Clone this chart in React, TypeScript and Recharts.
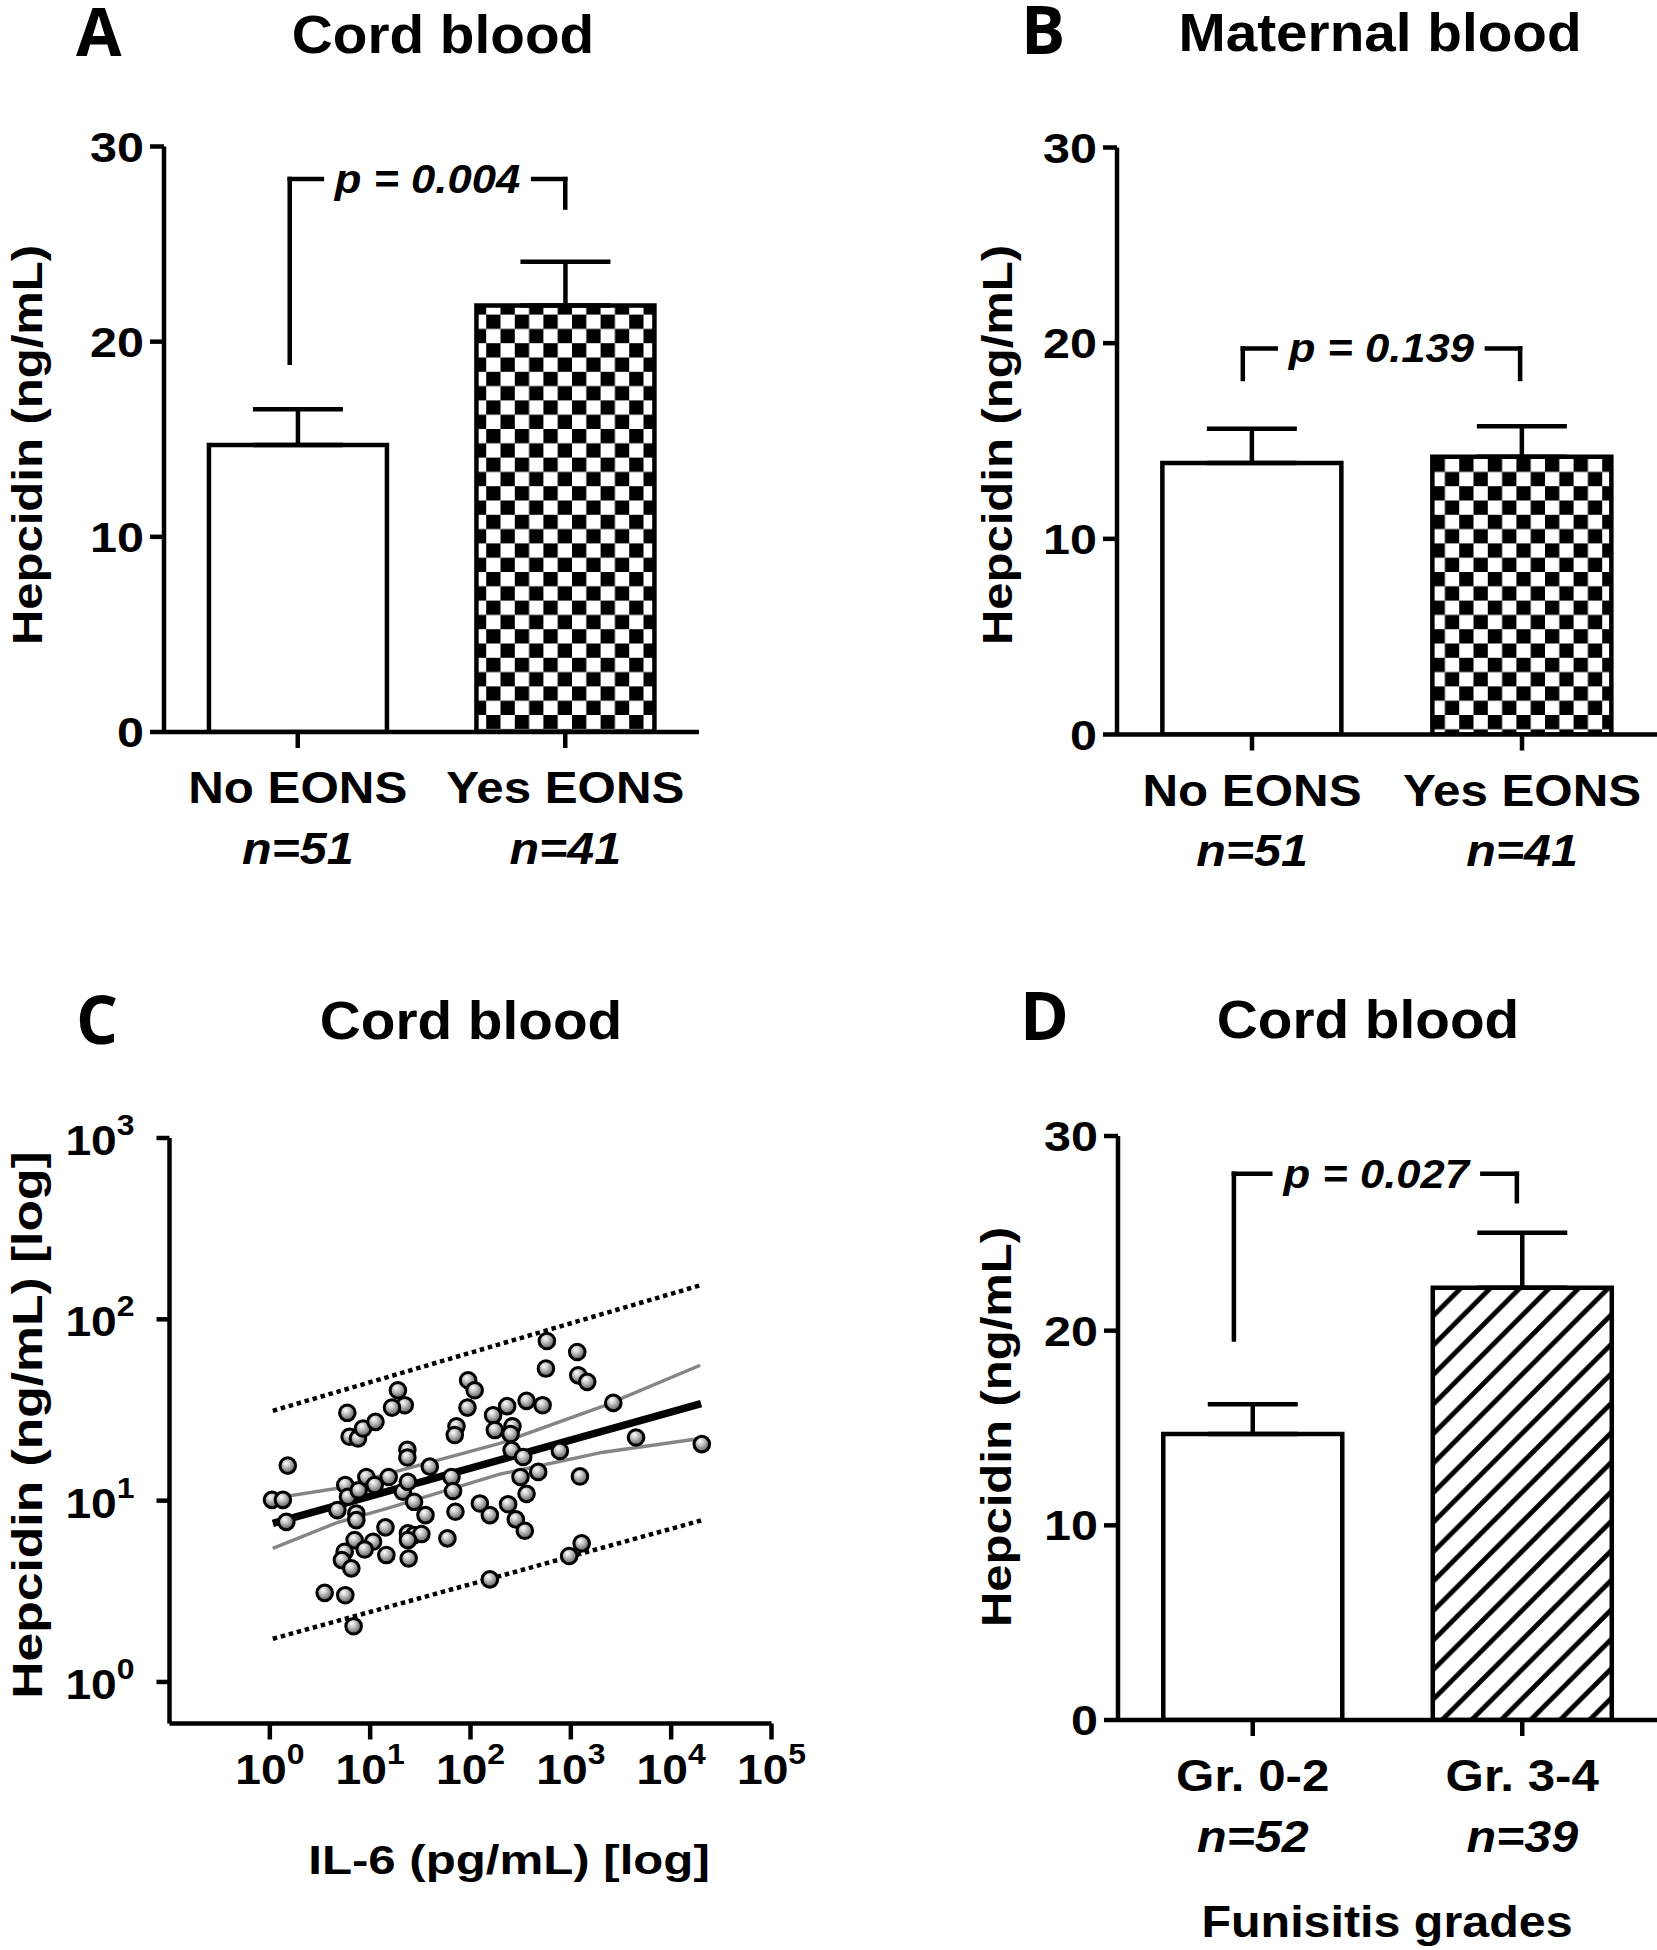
import React from 'react';
import {
  BarChart,
  Bar,
  XAxis,
  YAxis,
  ErrorBar,
  Cell,
  ReferenceLine,
  ScatterChart,
  Scatter,
} from 'recharts';

const FONT = '"Liberation Sans", Arial, Helvetica, sans-serif';
const LETTER_FONT = '"Open Sans", "DejaVu Sans", sans-serif';

// ---------- Bar panels data ----------
const eonsCategories = ['No EONS', 'Yes EONS'];
const eonsN = ['n=51', 'n=41'];
const cordMeans = [14.7, 21.85];
const cordSems = [1.84, 2.25];
const maternalMeans = [13.88, 14.2];
const maternalSems = [1.74, 1.56];
const gradeCategories = ['Gr. 0-2', 'Gr. 3-4'];
const gradeN = ['n=52', 'n=39'];
const gradeMeans = [14.69, 22.21];
const gradeSems = [1.53, 2.82];
const barYTicks = [0, 10, 20, 30];

// significance brackets (x positions in category units: first bar centre = 0.5, second = 1.5)
const bracketCord = { text: 'p = 0.004', y: 28.33, leftX: 0.47, leftBottom: 18.92, gapStart: 0.59, gapEnd: 1.38, rightX: 1.5, rightBottom: 26.87 };
const bracketMaternal = { text: 'p = 0.139', y: 19.73, leftX: 0.466, leftBottom: 18.17, gapStart: 0.588, gapEnd: 1.37, rightX: 1.493, rightBottom: 18.17 };
const bracketGrade = { text: 'p = 0.027', y: 28.06, leftX: 0.43, leftBottom: 19.55, gapStart: 0.565, gapEnd: 1.352, rightX: 1.48, rightBottom: 26.65 };

// ---------- Scatter panel data ----------
const il6Values = [
  1.05, 1.35, 1.51, 1.46, 5.92, 6.24, 7.56, 8.48, 11.3, 18.9,
  22.1, 16.5, 23.5, 23.5, 39.3, 5.65, 6.0, 7.68, 9.16, 11.1,
  15.3, 21.2, 23.8, 4.71, 7.28, 7.28, 27.4, 35.6, 64.6, 67.0,
  70.8, 94.7, 110, 93.3, 72.5, 69.7, 124, 156, 14.2, 23.8,
  27.4, 32.4, 23.8, 58.9, 7.0, 10.7, 8.81, 5.57, 5.23, 6.49,
  14.5, 24.2, 3.52, 5.65, 6.84, 156, 168, 175, 577, 1159,
  565, 1186, 1458, 2650, 4466, 20200, 362, 523, 232, 262,
  251, 257, 335, 778, 473, 315, 1233, 362, 237, 283,
  348, 1282, 964,
];
const hepcidinValues = [
  10.1, 10.1, 15.6, 7.64, 30.5, 22.5, 22.0, 25.0, 27.2, 40.6,
  33.6, 32.6, 19.1, 17.3, 15.4, 12.2, 10.5, 11.4, 13.5, 12.2,
  13.5, 11.2, 12.7, 8.87, 8.5, 7.81, 9.85, 8.32, 13.5, 11.3,
  8.68, 46.1, 40.6, 32.6, 25.7, 23.0, 9.65, 8.32, 7.12, 6.6,
  6.45, 6.54, 6.06, 6.19, 6.06, 5.93, 5.38, 5.22, 4.7, 4.23,
  5.01, 4.8, 3.1, 3.01, 2.03, 3.68, 29.6, 24.5, 75.9, 66.0,
  53.5, 49.1, 45.2, 34.6, 22.3, 20.5, 35.5, 33.6, 33.2, 25.7,
  23.3, 19.0, 17.4, 18.8, 14.4, 13.5, 13.6, 10.9, 9.56, 7.88,
  6.82, 5.81, 4.95,
];
const fitX = [1.07, 19860];
const fitY = [7.49, 34.3];
const ciX = [1.07, 4.77, 15.1, 196, 2104, 19450];
const ciUpper = [10.3, 11.7, 14.1, 20.7, 33.2, 55.8];
const ciLower = [5.45, 7.6, 9.1, 14.0, 18.5, 22.0];
const pbX = [1.07, 19860];
const pbUpper = [31.3, 154.5];
const pbLower = [1.73, 7.77];
const logXTicks = [1, 10, 100, 1000, 10000, 100000];
const logYTicks = [1, 10, 100, 1000];

const toPoints = (xs: number[], ys: number[]) => xs.map((x, i) => ({ x, y: ys[i] }));

// ---------- helpers ----------
function Txt(props: any) {
  const { x, y, size, sx = 1, sy = 1, anchor = 'middle', rotate = 0, italic = false, family = FONT, weight = 700, children } = props;
  return (
    <text
      transform={`translate(${x},${y}) rotate(${rotate}) scale(${sx},${sy})`}
      x={0}
      y={0}
      textAnchor={anchor}
      fontFamily={family}
      fontWeight={weight}
      fontStyle={italic ? 'italic' : 'normal'}
      fontSize={size}
      fill="#000"
    >
      {children}
    </text>
  );
}

function NumberTick(props: any) {
  const { x, y, payload } = props;
  return (
    <Txt x={x} y={y + 15} size={42.5} sx={1.14} anchor="end">
      {String(payload.value)}
    </Txt>
  );
}

function CategoryTick(props: any) {
  const { x, y, payload, categories, nLabels } = props;
  const idx = categories.indexOf(payload.value);
  return (
    <g>
      <Txt x={x} y={y + 55} size={44} sx={1.12}>
        {payload.value}
      </Txt>
      <Txt x={x} y={y + 115.5} size={44} sx={1.1} italic>
        {nLabels[idx]}
      </Txt>
    </g>
  );
}

function LogXTick(props: any) {
  const { x, y, payload } = props;
  const e = Math.round(Math.log10(payload.value));
  return (
    <text transform={`translate(${x},${y + 44}) scale(1.1,1)`} x={0} y={0} textAnchor="middle" fontFamily={FONT} fontWeight={700} fontSize={42} fill="#000">
      <tspan>10</tspan>
      <tspan dy={-20} fontSize={29}>{e}</tspan>
    </text>
  );
}

function LogYTick(props: any) {
  const { x, y, payload } = props;
  const e = Math.round(Math.log10(payload.value));
  return (
    <text transform={`translate(${x},${y + 17}) scale(1.1,1)`} x={0} y={0} textAnchor="end" fontFamily={FONT} fontWeight={700} fontSize={42} fill="#000">
      <tspan>10</tspan>
      <tspan dy={-20} fontSize={29}>{e}</tspan>
    </text>
  );
}

const axisStroke = { stroke: '#000', strokeWidth: 4.5 };
const BR = { stroke: '#000', strokeWidth: 4.5, strokeLinecap: 'square' as const };

function BarPanel(props: any) {
  const { left, top, width, height, margin, categories, nLabels, means, sems, fillId, defs, bracket } = props;
  const data = categories.map((name: string, i: number) => ({ name, mean: means[i], err: [0, sems[i]] }));
  const band = (width - margin.left - margin.right - 60) / 2;
  const dxL = (bracket.leftX - 0.5) * band;
  const dxR = (bracket.rightX - 1.5) * band;
  const c0 = categories[0];
  const c1 = categories[1];
  return (
    <div style={{ position: 'absolute', left, top }}>
      <BarChart width={width} height={height} data={data} margin={margin} barCategoryGap="16.8%">
        <defs>{defs}</defs>
        <XAxis
          dataKey="name"
          height={40}
          tickSize={16}
          tickMargin={0}
          interval={0}
          axisLine={axisStroke}
          tickLine={axisStroke}
          tick={(p: any) => <CategoryTick {...p} categories={categories} nLabels={nLabels} />}
        />
        <YAxis
          domain={[0, 30]}
          ticks={barYTicks}
          width={60}
          tickSize={14}
          tickMargin={6}
          interval={0}
          axisLine={axisStroke}
          tickLine={axisStroke}
          tick={(p: any) => <NumberTick {...p} />}
          allowDataOverflow
        />
        <Bar dataKey="mean" stroke="#000" strokeWidth={4.5} isAnimationActive={false}>
          {data.map((d: any, i: number) => (
            <Cell key={d.name} fill={i === 0 ? '#fff' : `url(#${fillId})`} />
          ))}
          <ErrorBar dataKey="err" width={45} stroke="#000" strokeWidth={4.5} direction="y" isAnimationActive={false} />
        </Bar>
        <ReferenceLine
          segment={[{ x: c0, y: bracket.leftBottom }, { x: c0, y: bracket.y }]}
          shape={(p: any) => <line x1={p.x1 + dxL} y1={p.y1} x2={p.x2 + dxL} y2={p.y2} {...BR} />}
        />
        <ReferenceLine
          segment={[{ x: c1, y: bracket.rightBottom }, { x: c1, y: bracket.y }]}
          shape={(p: any) => <line x1={p.x1 + dxR} y1={p.y1} x2={p.x2 + dxR} y2={p.y2} {...BR} />}
        />
        <ReferenceLine
          segment={[{ x: c0, y: bracket.y }, { x: c1, y: bracket.y }]}
          shape={(p: any) => {
            const span = p.x2 - p.x1;
            const at = (v: number) => p.x1 + (v - 0.5) * span;
            return (
              <g>
                <line x1={at(bracket.leftX)} y1={p.y1} x2={at(bracket.gapStart)} y2={p.y1} {...BR} />
                <line x1={at(bracket.gapEnd)} y1={p.y1} x2={at(bracket.rightX)} y2={p.y1} {...BR} />
                <Txt x={at((bracket.gapStart + bracket.gapEnd) / 2)} y={p.y1 + 14} size={40} sx={1.09} italic>
                  {bracket.text}
                </Txt>
              </g>
            );
          }}
        />
      </BarChart>
    </div>
  );
}

const checker = (id: string) => (
  <pattern id={id} patternUnits="userSpaceOnUse" width={28.6} height={28.6}>
    <rect width={28.6} height={28.6} fill="#fff" />
    <rect width={14.3} height={14.3} fill="#000" />
    <rect x={14.3} y={14.3} width={14.3} height={14.3} fill="#000" />
  </pattern>
);

const hatch = (id: string) => (
  <pattern id={id} patternUnits="userSpaceOnUse" width={29.5} height={29.5}>
    <rect width={29.5} height={29.5} fill="#fff" />
    <path d="M-7.4,7.4 L7.4,-7.4 M0,29.5 L29.5,0 M22.1,36.9 L36.9,22.1" stroke="#000" strokeWidth={4.8} />
  </pattern>
);

function Ball(props: any) {
  const { cx, cy } = props;
  if (cx == null || cy == null) return <g />;
  return <circle cx={cx} cy={cy} r={7.8} fill="url(#ballGrad)" stroke="#000" strokeWidth={3} />;
}

const NoShape = () => <g />;

function ScatterPanel() {
  const points = toPoints(il6Values, hepcidinValues);
  return (
    <div style={{ position: 'absolute', left: 0, top: 975 }}>
      <ScatterChart width={830} height={975} margin={{ top: 163, right: 58.5, bottom: 186.5, left: 109.5 }}>
        <defs>
          <radialGradient id="ballGrad" cx="45%" cy="40%" r="62%" fx="38%" fy="32%">
            <stop offset="0%" stopColor="#ffffff" />
            <stop offset="35%" stopColor="#cccccc" />
            <stop offset="100%" stopColor="#505050" />
          </radialGradient>
        </defs>
        <XAxis
          type="number"
          dataKey="x"
          scale="log"
          domain={[0.1, 100000]}
          ticks={logXTicks}
          allowDataOverflow
          height={40}
          tickSize={16}
          tickMargin={0}
          interval={0}
          axisLine={axisStroke}
          tickLine={axisStroke}
          tick={(p: any) => <LogXTick {...p} />}
        />
        <YAxis
          type="number"
          dataKey="y"
          scale="log"
          domain={[0.59, 1000]}
          ticks={logYTicks}
          allowDataOverflow
          width={60}
          tickSize={13}
          tickMargin={22}
          interval={0}
          axisLine={axisStroke}
          tickLine={axisStroke}
          tick={(p: any) => <LogYTick {...p} />}
        />
        <Scatter data={toPoints(pbX, pbUpper)} line={{ stroke: '#000', strokeWidth: 4.5, strokeDasharray: '4.5 3.8' }} shape={NoShape} isAnimationActive={false} />
        <Scatter data={toPoints(pbX, pbLower)} line={{ stroke: '#000', strokeWidth: 4.5, strokeDasharray: '4.5 3.8' }} shape={NoShape} isAnimationActive={false} />
        <Scatter data={toPoints(ciX, ciUpper)} line={{ stroke: '#858585', strokeWidth: 3.4 }} shape={NoShape} isAnimationActive={false} />
        <Scatter data={toPoints(ciX, ciLower)} line={{ stroke: '#858585', strokeWidth: 3.4 }} shape={NoShape} isAnimationActive={false} />
        <Scatter data={toPoints(fitX, fitY)} line={{ stroke: '#000', strokeWidth: 7.5 }} shape={NoShape} isAnimationActive={false} />
        <Scatter data={points} shape={Ball} isAnimationActive={false} />
      </ScatterChart>
    </div>
  );
}

export default function App() {
  return (
    <div style={{ position: 'absolute', left: 0, top: 0, width: 1657, height: 1950, background: '#fff', overflow: 'hidden' }}>
      <BarPanel
        left={0}
        top={0}
        width={830}
        height={975}
        margin={{ top: 146.5, right: 131, bottom: 203, left: 104 }}
        categories={eonsCategories}
        nLabels={eonsN}
        means={cordMeans}
        sems={cordSems}
        fillId="checkA"
        defs={checker('checkA')}
        bracket={bracketCord}
      />
      <BarPanel
        left={830}
        top={0}
        width={827}
        height={975}
        margin={{ top: 147.5, right: 0, bottom: 200.5, left: 227 }}
        categories={eonsCategories}
        nLabels={eonsN}
        means={maternalMeans}
        sems={maternalSems}
        fillId="checkB"
        defs={checker('checkB')}
        bracket={bracketMaternal}
      />
      <ScatterPanel />
      <BarPanel
        left={830}
        top={975}
        width={827}
        height={975}
        margin={{ top: 161, right: 0, bottom: 190, left: 228 }}
        categories={gradeCategories}
        nLabels={gradeN}
        means={gradeMeans}
        sems={gradeSems}
        fillId="hatchD"
        defs={hatch('hatchD')}
        bracket={bracketGrade}
      />
      <svg width={1657} height={1950} style={{ position: 'absolute', left: 0, top: 0, pointerEvents: 'none' }}>
        <Txt x={76} y={56} size={66} anchor="start" family={LETTER_FONT}>A</Txt>
        <Txt x={1021} y={54} size={66} anchor="start" family={LETTER_FONT}>B</Txt>
        <Txt x={76} y={1044} size={66} anchor="start" family={LETTER_FONT}>C</Txt>
        <Txt x={1020} y={1040} size={66} anchor="start" family={LETTER_FONT}>D</Txt>

        <Txt x={443} y={52.8} size={53} sx={1.07}>Cord blood</Txt>
        <Txt x={1380} y={51} size={53} sx={1.07}>Maternal blood</Txt>
        <Txt x={471} y={1039} size={53} sx={1.07}>Cord blood</Txt>
        <Txt x={1368} y={1038} size={53} sx={1.07}>Cord blood</Txt>

        <Txt x={42} y={445} size={43} sx={1.14} rotate={-90}>Hepcidin (ng/mL)</Txt>
        <Txt x={1012} y={445} size={43} sx={1.14} rotate={-90}>Hepcidin (ng/mL)</Txt>
        <Txt x={42} y={1425} size={43} sx={1.2} rotate={-90}>Hepcidin (ng/mL) [log]</Txt>
        <Txt x={1011} y={1427} size={43} sx={1.14} rotate={-90}>Hepcidin (ng/mL)</Txt>

        <Txt x={509} y={1873.5} size={41} sx={1.2}>IL-6 (pg/mL) [log]</Txt>
        <Txt x={1387} y={1936.7} size={44} sx={1.1}>Funisitis grades</Txt>
      </svg>
    </div>
  );
}
